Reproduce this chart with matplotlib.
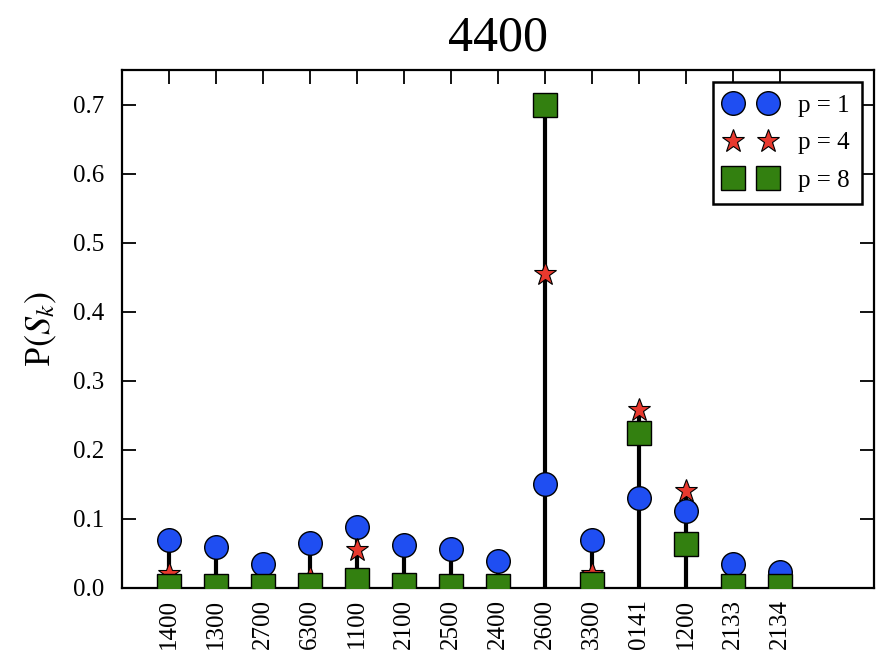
import numpy as np
import matplotlib
matplotlib.use("Agg")
import matplotlib.pyplot as plt

plt.rcParams['font.family'] = 'serif'
plt.rcParams['font.serif'] = ['Liberation Serif', 'DejaVu Serif']
plt.rcParams['mathtext.fontset'] = 'stix'

# States on the x axis and their probabilities for each p
states = ['1400', '1300', '2700', '6300', '1100', '2100', '2500',
          '2400', '2600', '3300', '0141', '1200', '2133', '2134']
prob_p1 = [0.069, 0.059, 0.034, 0.065, 0.088, 0.062, 0.056,
           0.039, 0.151, 0.069, 0.131, 0.112, 0.035, 0.023]
prob_p4 = [0.020, 0.004, 0.002, 0.015, 0.055, 0.004, 0.002,
           0.002, 0.455, 0.020, 0.258, 0.140, 0.002, 0.001]
prob_p8 = [0.003, 0.003, 0.003, 0.005, 0.012, 0.004, 0.003,
           0.003, 0.700, 0.006, 0.224, 0.064, 0.003, 0.003]

x = np.arange(1, len(states) + 1)
top = np.maximum(np.maximum(prob_p1, prob_p4), prob_p8)
yt = np.arange(0, 0.71, 0.1)

fig = plt.figure(figsize=(8.79, 6.64), dpi=100)
ax = fig.add_axes([0.1388, 0.1145, 0.8555, 0.780])

# stems up to the largest value of each state
ax.vlines(x, 0, top, color='black', linewidth=3.0, zorder=2)

ax.plot(x, prob_p1, 'o', color='#1f4ef2', markeredgecolor='black',
        markeredgewidth=1.0, markersize=17, label='p = 1', zorder=3)
ax.plot(x, prob_p4, '*', color='#e8392e', markeredgecolor='black',
        markeredgewidth=0.8, markersize=17, label='p = 4', zorder=4)
ax.plot(x, prob_p8, 's', color='#338010', markeredgecolor='black',
        markeredgewidth=1.0, markersize=17, label='p = 8', zorder=5)

ax.set_xlim(0, 16)
ax.set_ylim(0, 0.75)
ax.set_xticks(x)
ax.set_xticklabels(states, rotation=90, fontsize=18)
ax.set_yticks(yt)
ax.set_yticklabels(['%.1f' % v for v in yt], fontsize=18)

ax.tick_params(direction='in', top=True, right=True, length=10, width=1.3)
ax.tick_params(axis='x', pad=8)
ax.tick_params(axis='y', pad=13)
for sp in ax.spines.values():
    sp.set_linewidth(1.6)

ax.set_ylabel(r'P$\left(S_k\right)$', fontsize=26, labelpad=10)
ax.set_title('4400', fontsize=36, pad=14)

leg = ax.legend(loc='upper right', bbox_to_anchor=(0.984, 0.977),
                borderaxespad=0, numpoints=2, prop={'size': 18},
                fancybox=False, framealpha=1, edgecolor='black',
                handlelength=2.0, labelspacing=0.6, borderpad=0.5,
                handletextpad=0.9)
leg.get_frame().set_linewidth(1.8)

fig.savefig('out.png', dpi=100)
